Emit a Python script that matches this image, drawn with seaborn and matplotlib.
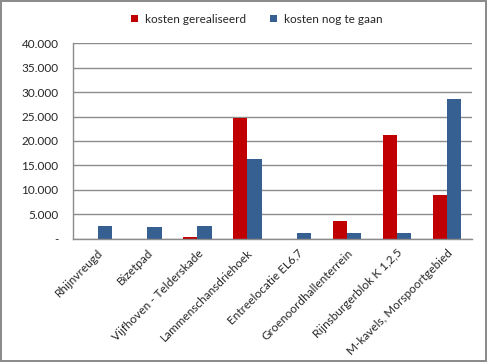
import seaborn as sns
import matplotlib.pyplot as plt
import matplotlib.ticker as mticker
import pandas as pd
import numpy as np

projecten = ["Rhijnvreugd", "Bizetpad", "Vijfhoven - Telderskade", "Lammenschansdriehoek",
             "Entreelocatie EL6,7", "Groenoordhallenterrein", "Rijnsburgerblok K 1,2,5",
             "M-kavels, Morspoortgebied"]
gerealiseerd = [0, 0, 470, 24600, 0, 3650, 21200, 9050]
nog_te_gaan = [2700, 2450, 2700, 16300, 1200, 1200, 1150, 28550]
reeksen = ["kosten gerealiseerd", "kosten nog te gaan"]

df = pd.DataFrame({
    "project": projecten * 2,
    "reeks": [reeksen[0]] * len(projecten) + [reeksen[1]] * len(projecten),
    "kosten": gerealiseerd + nog_te_gaan,
})

sns.set_style("white")
plt.rcParams['font.family'] = ['Lato', 'DejaVu Sans']

fig = plt.figure(figsize=(4.87, 3.62), dpi=100, edgecolor="#8c8c8c", linewidth=1.5)
ax = fig.add_axes([0.149, 0.340, 0.820, 0.541])

sns.barplot(data=df, x="project", y="kosten", hue="reeks", hue_order=reeksen,
            palette=["#C00000", "#376092"], width=0.57, saturation=1,
            edgecolor="none", ax=ax)

ax.set_ylim(0, 40000)
ax.set_xlim(-0.5, len(projecten) - 0.5)
ax.yaxis.set_major_locator(mticker.MultipleLocator(5000))
ax.yaxis.set_major_formatter(mticker.FuncFormatter(
    lambda v, p: "-" if v == 0 else f"{int(v):,}".replace(",", ".")))
ax.grid(axis="y", color="#8c8c8c", linewidth=1)
ax.set_axisbelow(True)
for s in ["top", "right"]:
    ax.spines[s].set_visible(False)
for s in ["left", "bottom"]:
    ax.spines[s].set_color("#8c8c8c")
    ax.spines[s].set_linewidth(1)

ax.set_xticks(range(len(projecten)))
ax.set_xticklabels(projecten, rotation=45, ha="right", rotation_mode="anchor", fontsize=8.5)
ax.set_xticks(np.arange(-0.5, len(projecten)), minor=True)
ax.tick_params(axis="x", which="major", length=0, pad=6)
ax.tick_params(axis="x", which="minor", length=4, color="#8c8c8c", direction="out")
ax.tick_params(axis="y", length=4, color="#8c8c8c", direction="out", labelsize=8.5, pad=6)
ax.set_xlabel("")
ax.set_ylabel("")

ax.legend(loc="lower center", bbox_to_anchor=(0.462, 1.04), ncol=2, frameon=False,
          fontsize=8.5, handlelength=0.6, handleheight=0.6, columnspacing=2.0,
          handletextpad=0.6)

fig.savefig("out.png", dpi=100, edgecolor=fig.get_edgecolor())
